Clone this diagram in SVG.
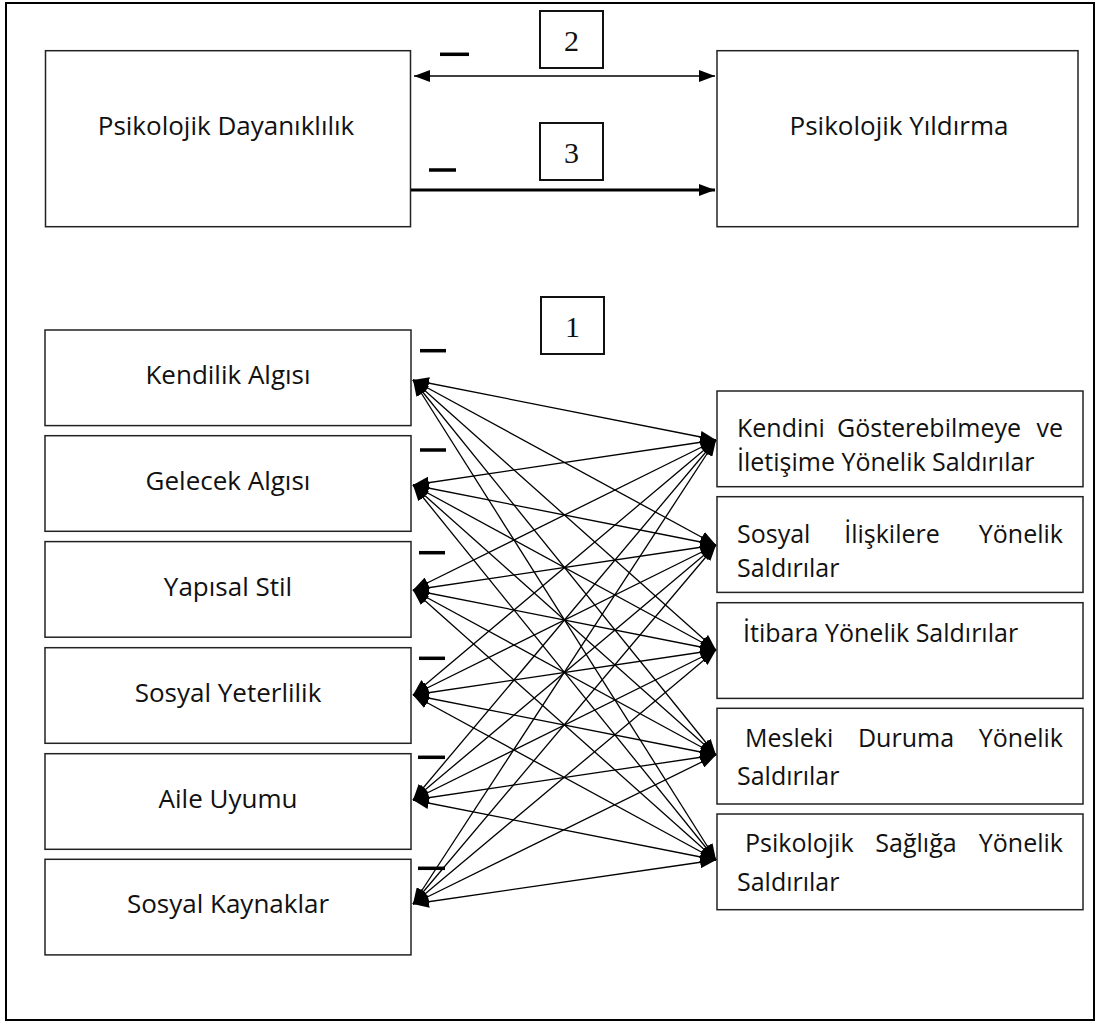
<svg xmlns="http://www.w3.org/2000/svg" width="1100" height="1023" viewBox="0 0 1100 1023">
<defs>
<style>
.box{fill:#fff;stroke:#222;stroke-width:1.5}
.nbox{fill:#fff;stroke:#111;stroke-width:2}
.t{font-family:"Open Sans","Liberation Sans",sans-serif;font-size:26px;fill:#111}
.r{font-size:25px}
.c{text-anchor:middle}
.e{text-anchor:end}
.num{font-family:"Liberation Serif",serif;font-size:30px;fill:#111;text-anchor:middle}
.ln{stroke:#000;stroke-width:1.3;fill:none}
.minus{stroke:#000;stroke-width:3.5}
</style>
<marker id="ah" viewBox="0 0 16 12" refX="16" refY="6" markerWidth="16" markerHeight="12" markerUnits="userSpaceOnUse" orient="auto-start-reverse">
<path d="M0,0 L16,6 L0,12 z" fill="#000"/>
</marker>
</defs>
<rect x="6" y="3" width="1088" height="1017" fill="#fff" stroke="#000" stroke-width="2"/>

<g id="node-dayaniklilik">
<rect class="box" x="45.5" y="50.7" width="365" height="176"/>
<text class="t c" x="226" y="135">Psikolojik Dayanıklılık</text>
</g>
<g id="node-yildirma">
<rect class="box" x="717" y="50.7" width="361" height="176"/>
<text class="t c" x="899" y="135">Psikolojik Yıldırma</text>
</g>

<g id="label-2"><rect class="nbox" x="540" y="11" width="63" height="57"/><text class="num" x="571.5" y="51">2</text></g>
<g id="label-3"><rect class="nbox" x="540" y="123" width="63" height="57"/><text class="num" x="571.5" y="163">3</text></g>
<g id="label-1"><rect class="nbox" x="541" y="297" width="63" height="57"/><text class="num" x="572.5" y="337">1</text></g>

<g id="node-kendilik"><rect class="box" x="45" y="330" width="366" height="95.6"/><text class="t c" x="228" y="384">Kendilik Algısı</text></g>
<g id="node-gelecek"><rect class="box" x="45" y="435.7" width="366" height="95.6"/><text class="t c" x="228" y="489.5">Gelecek Algısı</text></g>
<g id="node-yapisal"><rect class="box" x="45" y="541.6" width="366" height="95.6"/><text class="t c" x="228" y="595.5">Yapısal Stil</text></g>
<g id="node-sosyalyet"><rect class="box" x="45" y="647.7" width="366" height="95.6"/><text class="t c" x="228" y="701.5">Sosyal Yeterlilik</text></g>
<g id="node-aile"><rect class="box" x="45" y="753.7" width="366" height="95.6"/><text class="t c" x="228" y="807.5">Aile Uyumu</text></g>
<g id="node-sosyalkay"><rect class="box" x="45" y="859.3" width="366" height="95.6"/><text class="t c" x="228" y="913.3">Sosyal Kaynaklar</text></g>

<g id="node-r1"><rect class="box" x="717" y="391" width="366" height="95.7"/>
<text class="t r" x="737" y="437">Kendini</text><text class="t r c" x="929" y="437">Gösterebilmeye</text><text class="t r e" x="1063" y="437">ve</text>
<text class="t r" x="737" y="471">İletişime Yönelik Saldırılar</text></g>
<g id="node-r2"><rect class="box" x="717" y="496.7" width="366" height="95.7"/>
<text class="t r" x="737" y="543">Sosyal</text><text class="t r c" x="892" y="543">İlişkilere</text><text class="t r e" x="1063" y="543">Yönelik</text>
<text class="t r" x="737" y="577">Saldırılar</text></g>
<g id="node-r3"><rect class="box" x="717" y="602.7" width="366" height="95.7"/>
<text class="t r" x="743" y="641.7">İtibara Yönelik Saldırılar</text></g>
<g id="node-r4"><rect class="box" x="717" y="708.3" width="366" height="95.7"/>
<text class="t r" x="745" y="746.7">Mesleki</text><text class="t r c" x="906" y="746.7">Duruma</text><text class="t r e" x="1063" y="746.7">Yönelik</text>
<text class="t r" x="737" y="785">Saldırılar</text></g>
<g id="node-r5"><rect class="box" x="717" y="814" width="366" height="95.7"/>
<text class="t r" x="745" y="852.3">Psikolojik</text><text class="t r c" x="916" y="852.3">Sağlığa</text><text class="t r e" x="1063" y="852.3">Yönelik</text>
<text class="t r" x="737" y="890.6">Saldırılar</text></g>

<g id="signs">
<line class="minus" x1="440" y1="54.3" x2="469" y2="54.3"/>
<line class="minus" x1="429" y1="170" x2="456" y2="170"/>
<line class="minus" x1="420" y1="350.7" x2="446" y2="350.7"/>
<line class="minus" x1="420" y1="450" x2="446" y2="450"/>
<line class="minus" x1="419" y1="552.7" x2="445" y2="552.7"/>
<line class="minus" x1="419" y1="658.3" x2="445" y2="658.3"/>
<line class="minus" x1="418" y1="757.3" x2="445" y2="757.3"/>
<line class="minus" x1="418" y1="868.3" x2="445" y2="868.3"/>
</g>

<g id="connectors" class="ln" marker-start="url(#ah)" marker-end="url(#ah)">
<line x1="414" y1="76" x2="715" y2="76"/>
<line x1="411" y1="190" x2="715" y2="190" stroke-width="3" marker-start="none"/>
<line x1="413" y1="380" x2="716" y2="440"/>
<line x1="413" y1="380" x2="716" y2="545"/>
<line x1="413" y1="380" x2="716" y2="650"/>
<line x1="413" y1="380" x2="716" y2="755"/>
<line x1="413" y1="380" x2="716" y2="860"/>
<line x1="413" y1="485" x2="716" y2="440"/>
<line x1="413" y1="485" x2="716" y2="545"/>
<line x1="413" y1="485" x2="716" y2="650"/>
<line x1="413" y1="485" x2="716" y2="755"/>
<line x1="413" y1="485" x2="716" y2="860"/>
<line x1="413" y1="590" x2="716" y2="440"/>
<line x1="413" y1="590" x2="716" y2="545"/>
<line x1="413" y1="590" x2="716" y2="650"/>
<line x1="413" y1="590" x2="716" y2="755"/>
<line x1="413" y1="590" x2="716" y2="860"/>
<line x1="413" y1="695" x2="716" y2="440"/>
<line x1="413" y1="695" x2="716" y2="545"/>
<line x1="413" y1="695" x2="716" y2="650"/>
<line x1="413" y1="695" x2="716" y2="755"/>
<line x1="413" y1="695" x2="716" y2="860"/>
<line x1="413" y1="800" x2="716" y2="440"/>
<line x1="413" y1="800" x2="716" y2="545"/>
<line x1="413" y1="800" x2="716" y2="650"/>
<line x1="413" y1="800" x2="716" y2="755"/>
<line x1="413" y1="800" x2="716" y2="860"/>
<line x1="413" y1="904" x2="716" y2="440"/>
<line x1="413" y1="904" x2="716" y2="545"/>
<line x1="413" y1="904" x2="716" y2="650"/>
<line x1="413" y1="904" x2="716" y2="755"/>
<line x1="413" y1="904" x2="716" y2="860"/>
</g>
</svg>
